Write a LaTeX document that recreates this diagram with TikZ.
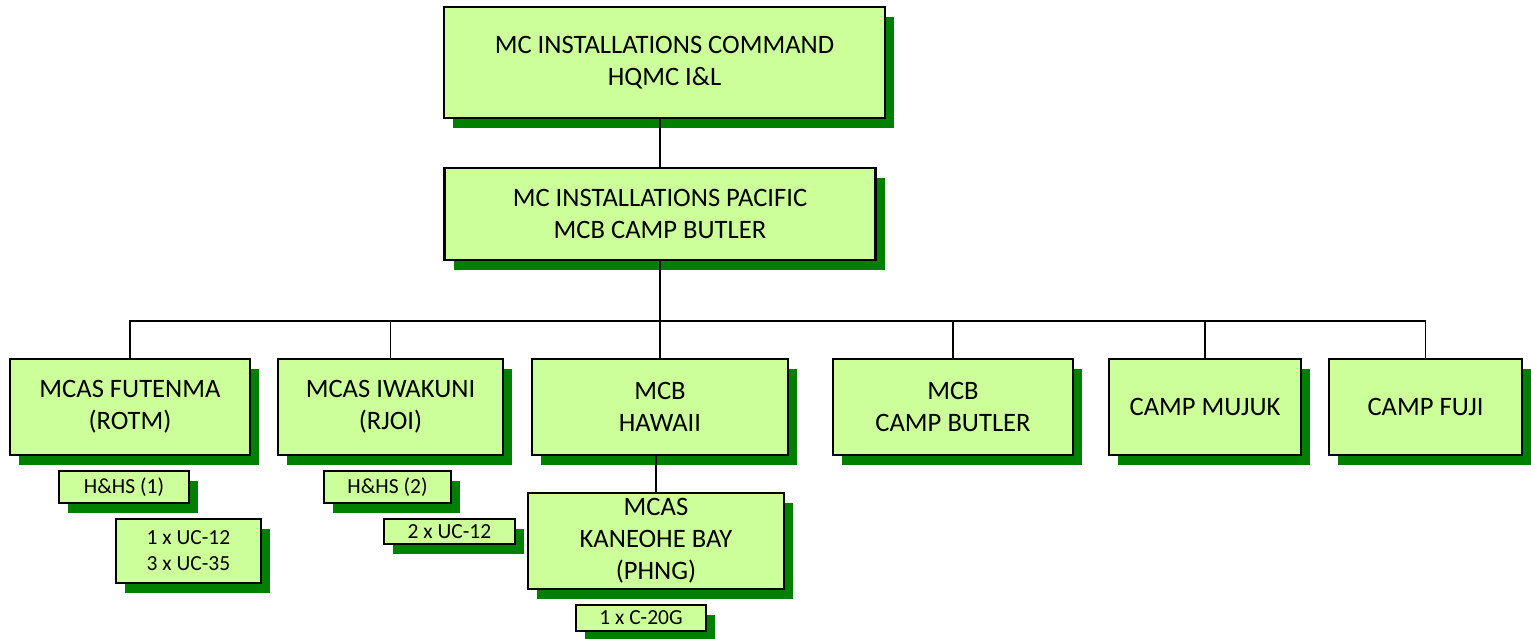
\documentclass[tikz,border=0pt]{standalone}
\usepackage{fontspec}
\setmainfont{Carlito}
\usepackage{tikz}
\usetikzlibrary{shadows}
\definecolor{BoxFill}{RGB}{204,255,153}
\definecolor{ShadowGreen}{RGB}{0,128,0}

\begin{document}
\begin{tikzpicture}[x=1pt, y=-1pt,
    unitbox/.style={draw=black, line width=2.6pt, fill=BoxFill, align=center,
      inner sep=0pt, font=\fontsize{26.6}{32}\selectfont,
      drop shadow={shadow xshift=9pt, shadow yshift=-10pt, fill=ShadowGreen, opacity=1}},
    detbox/.style={unitbox, line width=2.2pt, font=\fontsize{21.5}{26}\selectfont},
    link/.style={draw=black, line width=1.8pt}]
  \useasboundingbox (0,0) rectangle (1531,639);
  % top of the chain
  \node[unitbox, minimum width=441pt, minimum height=111pt] (cmd) at (664.5,62.5)
    {MC INSTALLATIONS COMMAND\\HQMC I\&L};
  \node[unitbox, minimum width=431pt, minimum height=92pt] (pac) at (660,214)
    {MC INSTALLATIONS PACIFIC\\MCB CAMP BUTLER};
  % installations
  \node[unitbox, minimum width=240pt, minimum height=96pt] (fut) at (130,407)
    {MCAS FUTENMA\\(ROTM)};
  \node[unitbox, minimum width=225pt, minimum height=96pt] (iwa) at (390.5,407)
    {MCAS IWAKUNI\\(RJOI)};
  \node[unitbox, minimum width=256pt, minimum height=96pt] (haw) at (660,407)
    {MCB\\HAWAII};
  \node[unitbox, minimum width=240pt, minimum height=96pt] (but) at (953,407)
    {MCB\\CAMP BUTLER};
  \node[unitbox, minimum width=192pt, minimum height=96pt] (muj) at (1205,407)
    {CAMP MUJUK};
  \node[unitbox, minimum width=193pt, minimum height=96pt] (fuji) at (1425.5,407)
    {CAMP FUJI};
  \node[unitbox, minimum width=256pt, minimum height=96pt] (kan) at (656,541)
    {MCAS\\KANEOHE BAY\\(PHNG)};
  % units and aircraft
  \node[detbox, minimum width=130pt, minimum height=32pt] (hhs1) at (124,487) {H\&HS (1)};
  \node[detbox, minimum width=145pt, minimum height=64pt] (uc1) at (188.5,551)
    {1 x UC-12\\3 x UC-35};
  \node[detbox, minimum width=127pt, minimum height=32pt] (hhs2) at (387.5,487) {H\&HS (2)};
  \node[detbox, minimum width=131pt, minimum height=25pt] (uc2) at (449.5,531.5) {2 x UC-12};
  \node[detbox, minimum width=130pt, minimum height=26pt] (c20) at (641,618) {1 x C-20G};
  % connectors
  \coordinate (bus) at (660,321);
  \draw[link] (pac.north) -- (pac.north |- cmd.south);
  \draw[link] (pac) -- (bus);
  \draw[link] (fut.north) |- (bus) -| (fuji.north);
  \foreach \n in {iwa,haw,but,muj}
    \draw[link] (\n.north) -- (\n.north |- bus);
  \draw[link] (kan.north) -- (kan.north |- haw.south);
\end{tikzpicture}
\end{document}
